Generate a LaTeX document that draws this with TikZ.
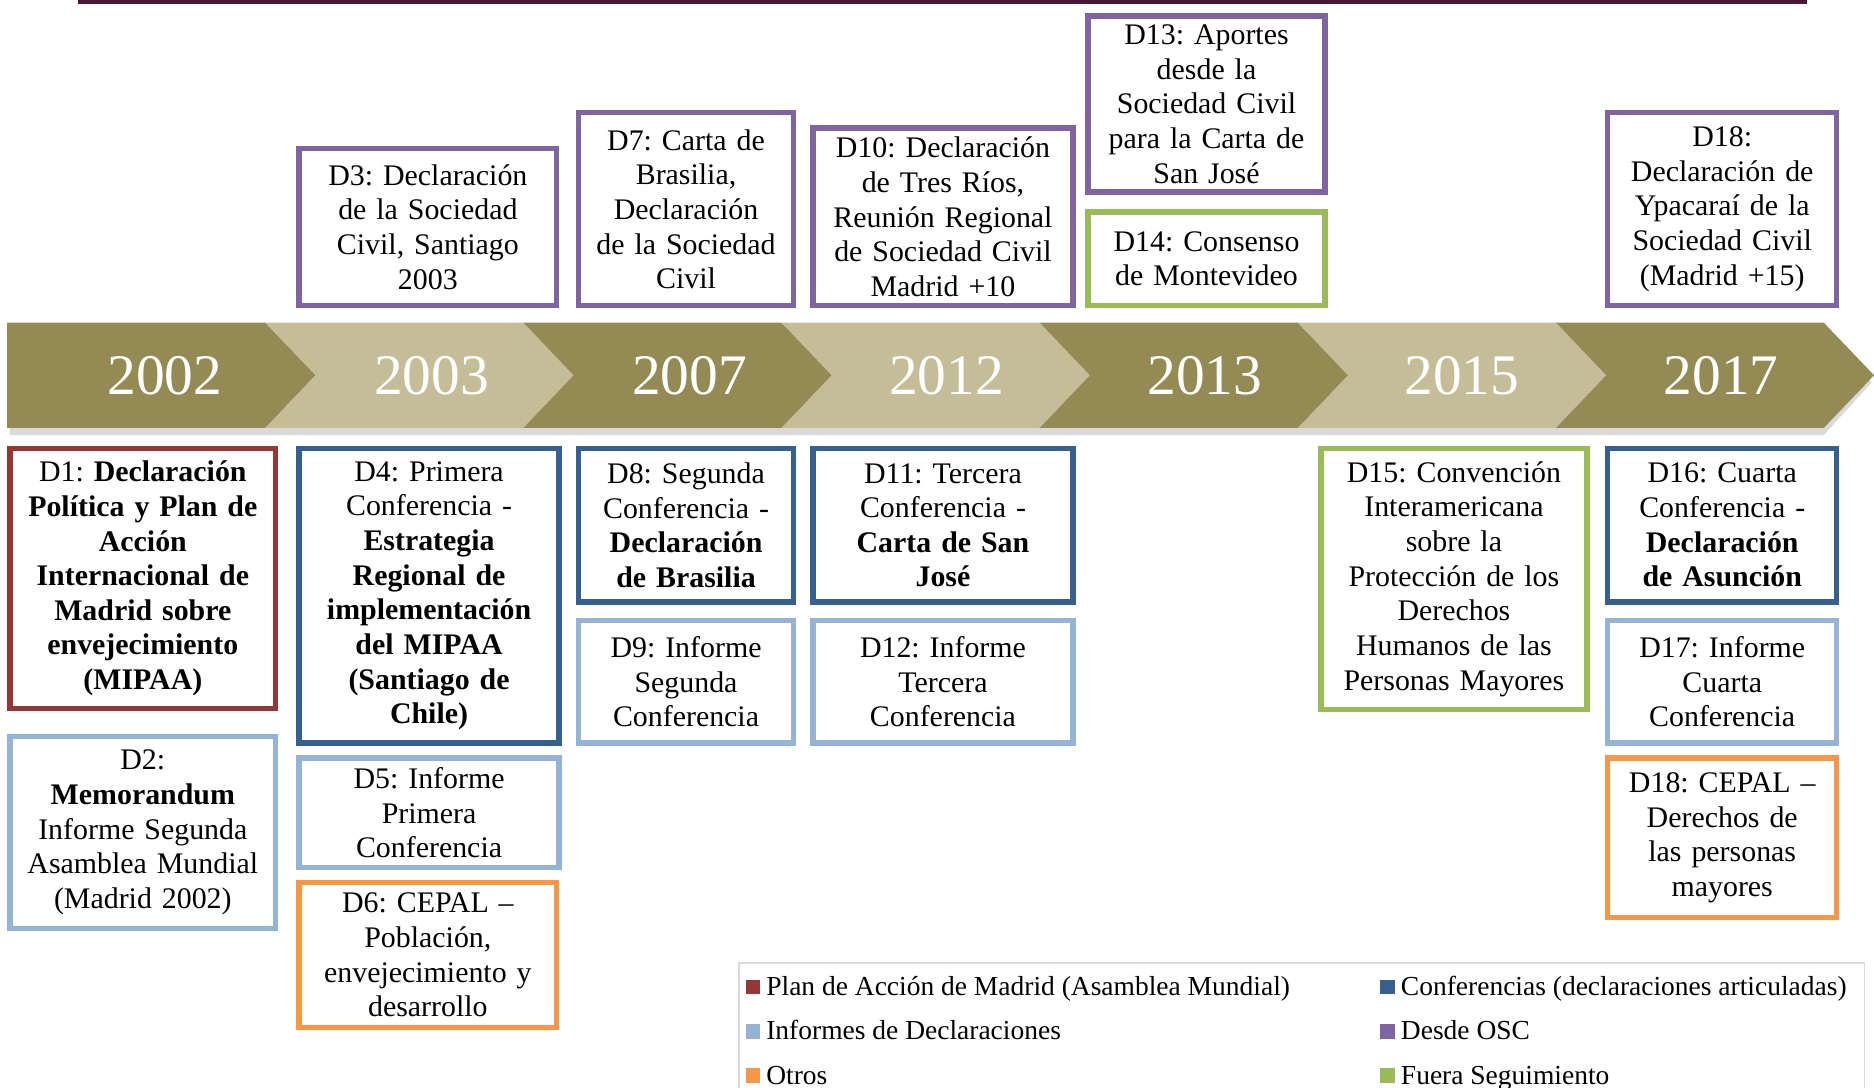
\documentclass[tikz,border=0pt]{standalone}
\usepackage{fontspec}
\setmainfont{Liberation Serif}
\frenchspacing
\definecolor{olivedark}{HTML}{948A54}
\definecolor{olivelight}{HTML}{C4BD97}
\definecolor{cred}{HTML}{953735}
\definecolor{cdblue}{HTML}{376092}
\definecolor{clblue}{HTML}{95B3D7}
\definecolor{cpurple}{HTML}{8064A2}
\definecolor{cgreen}{HTML}{9BBB59}
\definecolor{corange}{HTML}{F79646}
\definecolor{cmaroon}{HTML}{4A1636}
\definecolor{cgrid}{HTML}{D9D9D9}
\tikzset{
  docbox/.style={draw=#1, line width=4.5pt, fill=white, inner sep=0pt, align=center,
    font=\fontsize{25}{29}\selectfont\frenchspacing},
  yearlbl/.style={text=white, font=\fontsize{48}{50}\selectfont, inner sep=0pt},
  legsq/.style={fill=#1, minimum size=12pt, inner sep=0pt},
  legtxt/.style={font=\fontsize{23}{26}\selectfont, inner sep=0pt, anchor=base west},
}
\begin{document}
\begin{tikzpicture}[x=1pt,y=-1pt]
\useasboundingbox (0,0) rectangle (1568,910);
% top rule
\fill[cmaroon] (65,0) rectangle (1512,3);
% band shadow
\fill[black,opacity=0.15] (8,276) -- (1526,276) -- (1566,320) -- (1526,364) -- (8,364) -- cycle;
% chevrons
\fill[olivedark] (6,270) -- (222,270) -- (264,314) -- (222,358) -- (6,358) -- cycle;
\foreach \L/\R/\c in {222/438/olivelight, 438/654/olivedark, 654/870/olivelight,
  870/1086/olivedark, 1086/1302/olivelight, 1302/1526/olivedark}{
  \fill[\c] (\L,270) -- (\R,270) -- (\R+42,314) -- (\R,358) -- (\L,358) -- (\L+42,314) -- cycle;
}
% years
\node[yearlbl] (y2002) at (138,314) {2002};
\node[yearlbl] (y2003) at (361,314) {2003};
\node[yearlbl] (y2007) at (577,314) {2007};
\node[yearlbl] (y2012) at (792,314) {2012};
\node[yearlbl] (y2013) at (1008,314) {2013};
\node[yearlbl] (y2015) at (1223,314) {2015};
\node[yearlbl] (y2017) at (1440,314) {2017};
% top boxes
\node[docbox=cpurple, minimum width=215.5pt, minimum height=131.5pt, text width=208pt] (d3) at (358,190)
  {D3: Declaración\\de la Sociedad\\Civil, Santiago\\2003};
\node[docbox=cpurple, minimum width=179.5pt, minimum height=161.5pt, text width=172pt] (d7) at (574,175)
  {D7: Carta de\\Brasilia,\\Declaración\\de la Sociedad\\Civil};
\node[docbox=cpurple, minimum width=217.5pt, minimum height=148.5pt, text width=210pt] (d10) at (789,181.5)
  {D10: Declaración\\de Tres Ríos,\\Reunión Regional\\de Sociedad Civil\\Madrid +10};
\node[docbox=cpurple, minimum width=198.5pt, minimum height=147.5pt, text width=192pt] (d13) at (1009.5,87)
  {D13: Aportes\\desde la\\Sociedad Civil\\para la Carta de\\San José};
\node[docbox=cgreen, minimum width=198.5pt, minimum height=78.5pt, text width=192pt] (d14) at (1009.5,216.5)
  {D14: Consenso\\de Montevideo};
\node[docbox=cpurple, minimum width=191.5pt, minimum height=161.5pt, text width=185pt] (d18a) at (1441,175)
  {D18:\\Declaración de\\Ypacaraí de la\\Sociedad Civil\\(Madrid +15)};
% bottom boxes
\node[docbox=cred, minimum width=222.5pt, minimum height=217.5pt, text width=216pt] (d1) at (119.5,484)
  {D1: \textbf{Declaración}\\\textbf{Política y Plan de}\\\textbf{Acción}\\\textbf{Internacional de}\\\textbf{Madrid sobre}\\\textbf{envejecimiento}\\\textbf{(MIPAA)}};
\node[docbox=clblue, minimum width=222.5pt, minimum height=160.5pt, text width=216pt] (d2) at (119.5,696.5)
  {D2:\\\textbf{Memorandum}\\Informe Segunda\\Asamblea Mundial\\(Madrid 2002)};
\node[docbox=cdblue, minimum width=217.5pt, minimum height=246.5pt, text width=211pt] (d4) at (359,498.5)
  {D4: Primera\\Conferencia -\\\textbf{Estrategia}\\\textbf{Regional de}\\\textbf{implementación}\\\textbf{del MIPAA}\\\textbf{(Santiago de}\\\textbf{Chile)}};
\node[docbox=clblue, minimum width=217.5pt, minimum height=91.5pt, text width=211pt] (d5) at (359,680)
  {D5: Informe\\Primera\\Conferencia};
\node[docbox=corange, minimum width=215.5pt, minimum height=121.5pt, text width=209pt] (d6) at (358,799)
  {D6: CEPAL –\\Población,\\envejecimiento y\\desarrollo};
\node[docbox=cdblue, minimum width=179.5pt, minimum height=128.5pt, text width=172pt] (d8) at (574,439.5)
  {D8: Segunda\\Conferencia -\\\textbf{Declaración}\\\textbf{de Brasilia}};
\node[docbox=clblue, minimum width=179.5pt, minimum height=102.5pt, text width=172pt] (d9) at (574,570.5)
  {D9: Informe\\Segunda\\Conferencia};
\node[docbox=cdblue, minimum width=217.5pt, minimum height=128.5pt, text width=210pt] (d11) at (789,439.5)
  {D11: Tercera\\Conferencia -\\\textbf{Carta de San}\\\textbf{José}};
\node[docbox=clblue, minimum width=217.5pt, minimum height=102.5pt, text width=210pt] (d12) at (789,570.5)
  {D12: Informe\\Tercera\\Conferencia};
\node[docbox=cgreen, minimum width=222.5pt, minimum height=218.5pt, text width=216pt] (d15) at (1216.5,484.5)
  {D15: Convención\\Interamericana\\sobre la\\Protección de los\\Derechos\\Humanos de las\\Personas Mayores};
\node[docbox=cdblue, minimum width=191.5pt, minimum height=128.5pt, text width=185pt] (d16) at (1441,439.5)
  {D16: Cuarta\\Conferencia -\\\textbf{Declaración}\\\textbf{de Asunción}};
\node[docbox=clblue, minimum width=191.5pt, minimum height=102.5pt, text width=185pt] (d17) at (1441,570.5)
  {D17: Informe\\Cuarta\\Conferencia};
\node[docbox=corange, minimum width=191.5pt, minimum height=133.5pt, text width=185pt] (d18b) at (1441,701)
  {D18: CEPAL –\\Derechos de\\las personas\\mayores};
% legend
\draw[cgrid, line width=1.5pt] (618,910) -- (618,806) -- (1560,806) -- (1560,910);
\node[legsq=cred] (lq1) at (630,826) {};
\node[legtxt] (lt1) at (641,833) {Plan de Acción de Madrid (Asamblea Mundial)};
\node[legsq=clblue] (lq2) at (630,863) {};
\node[legtxt] (lt2) at (641,870) {Informes de Declaraciones};
\node[legsq=corange] (lq3) at (630,900) {};
\node[legtxt] (lt3) at (641,907) {Otros};
\node[legsq=cdblue] (lq4) at (1161,826) {};
\node[legtxt] (lt4) at (1172,833) {Conferencias (declaraciones articuladas)};
\node[legsq=cpurple] (lq5) at (1161,863) {};
\node[legtxt] (lt5) at (1172,870) {Desde OSC};
\node[legsq=cgreen] (lq6) at (1161,900) {};
\node[legtxt] (lt6) at (1172,907) {Fuera Seguimiento};
\end{tikzpicture}
\end{document}
